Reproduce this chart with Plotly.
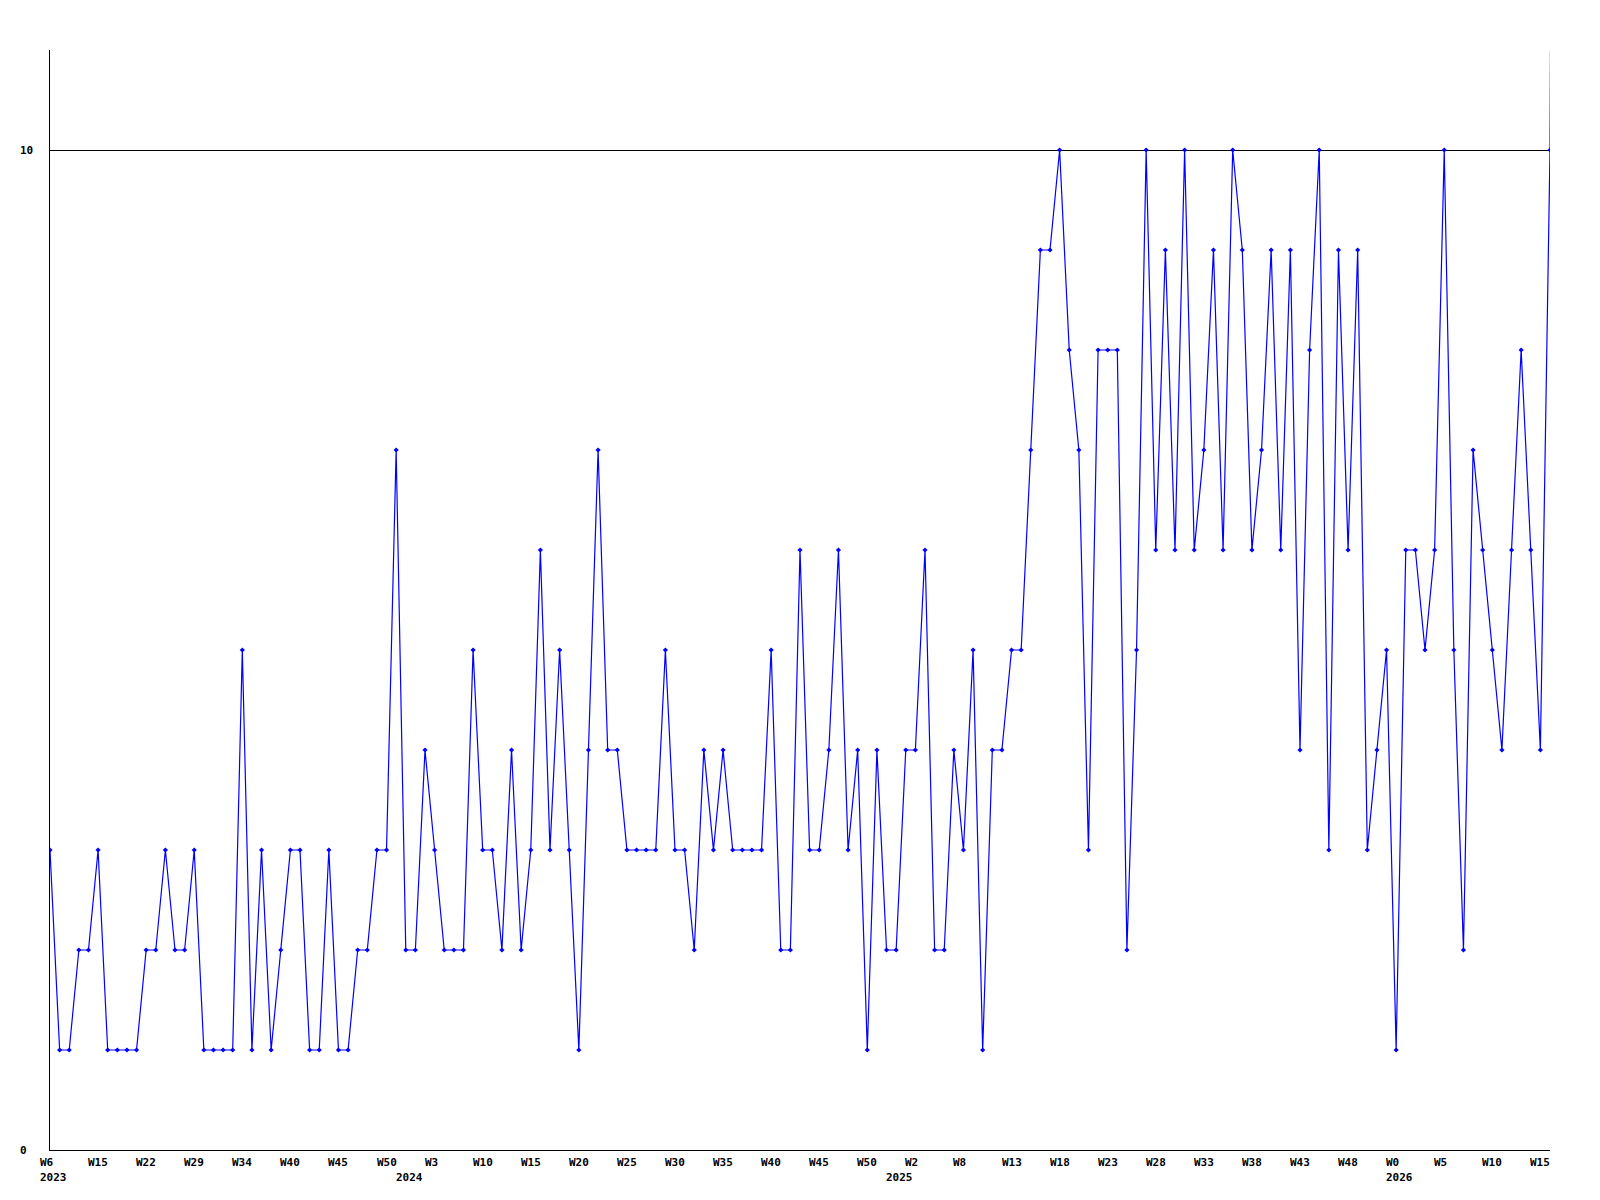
import plotly.graph_objects as go

# valores semanais (um ponto por semana com dados)
valores = [3, 1, 1, 2, 2, 3, 1, 1, 1, 1,
           2, 2, 3, 2, 2, 3, 1, 1, 1, 1,
           5, 1, 3, 1, 2, 3, 3, 1, 1, 3,
           1, 1, 2, 2, 3, 3, 7, 2, 2, 4,
           3, 2, 2, 2, 5, 3, 3, 2, 4, 2,
           3, 6, 3, 5, 3, 1, 4, 7, 4, 4,
           3, 3, 3, 3, 5, 3, 3, 2, 4, 3,
           4, 3, 3, 3, 3, 5, 2, 2, 6, 3,
           3, 4, 6, 3, 4, 1, 4, 2, 2, 4,
           4, 6, 2, 2, 4, 3, 5, 1, 4, 4,
           5, 5, 7, 9, 9, 10, 8, 7, 3, 8,
           8, 8, 2, 5, 10, 6, 9, 6, 10, 6,
           7, 9, 6, 10, 9, 6, 7, 9, 6, 9,
           4, 8, 10, 3, 9, 6, 9, 3, 4, 5,
           1, 6, 6, 5, 6, 10, 5, 2, 7, 6,
           5, 4, 6, 8, 6, 4, 10]
valor_seguinte = 30  # semana corrente, sai fora da area do grafico

# rotulos do eixo x (um a cada 5 pontos)
rotulos_semana = ["W6", "W15", "W22", "W29", "W34", "W40", "W45", "W50",
                  "W3", "W10", "W15", "W20", "W25", "W30", "W35", "W40", "W45", "W50",
                  "W2", "W8", "W13", "W18", "W23", "W28", "W33", "W38", "W43", "W48",
                  "W0", "W5", "W10", "W15"]
ano_rotulo = ["2023"] * 8 + ["2024"] * 10 + ["2025"] * 10 + ["2026"] * 4
passo_rotulo = 5

# eixo y
ticks_y = [0, 10]
y_max = 11

fonte = dict(family="DejaVu Sans Mono", size=11, color="black", weight="bold")

x = list(range(len(valores) + 1))
y = valores + [valor_seguinte]

fig = go.Figure()
fig.add_trace(go.Scatter(x=x, y=y, mode="lines+markers",
                         line=dict(color="#0000FF", width=1.2),
                         marker=dict(color="#0000FF", size=4, symbol="diamond"),
                         showlegend=False, hoverinfo="skip"))

anotacoes = []
ano_anterior = None
for i, (rot, ano) in enumerate(zip(rotulos_semana, ano_rotulo)):
    pos = i * passo_rotulo
    anotacoes.append(dict(x=pos, y=0, xref="x", yref="paper", text=rot, showarrow=False,
                          xanchor="left", yanchor="top", xshift=-12, yshift=-4, font=fonte))
    if ano != ano_anterior:
        pos_ano = max(0, pos - int(rot[1:]))
        anotacoes.append(dict(x=pos_ano, y=0, xref="x", yref="paper", text=ano, showarrow=False,
                              xanchor="left", yanchor="top", xshift=-12, yshift=-19, font=fonte))
        ano_anterior = ano

for v in ticks_y:
    anotacoes.append(dict(x=0, y=v, xref="paper", yref="y", text=str(v), showarrow=False,
                          xanchor="left", yanchor="middle", xshift=-32, font=fonte))

# a pagina tem 8px de margem no body, por isso 42 em vez de 50
fig.update_layout(
    width=1584, height=1184,
    margin=dict(l=42, r=42, t=42, b=42),
    plot_bgcolor="white", paper_bgcolor="white",
    annotations=anotacoes,
    xaxis=dict(range=[0, len(valores) - 1], showgrid=False, zeroline=False,
               showticklabels=False, ticks="", showline=True, linecolor="black", linewidth=1),
    yaxis=dict(range=[0, y_max], tickvals=ticks_y, showgrid=True, gridcolor="black", gridwidth=1,
               zeroline=False, showticklabels=False, ticks="",
               showline=True, linecolor="black", linewidth=1),
)

fig.write_html("out.html")
